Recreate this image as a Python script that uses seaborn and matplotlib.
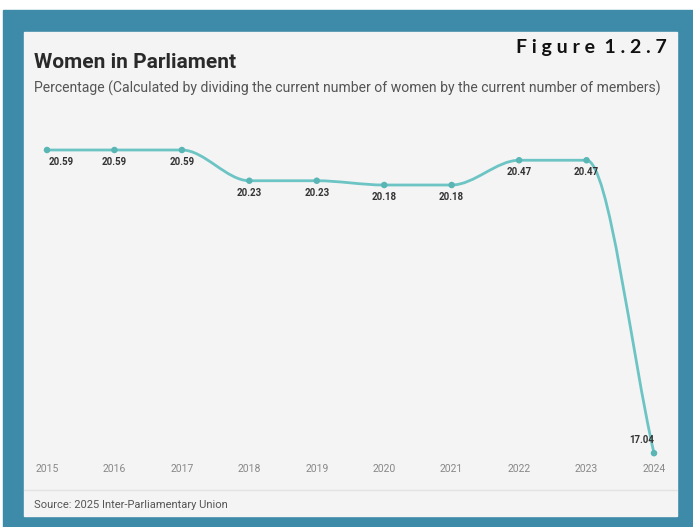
import matplotlib
matplotlib.use("Agg")
import matplotlib.pyplot as plt
from matplotlib.path import Path
from matplotlib.patches import PathPatch, Rectangle
import numpy as np
import pandas as pd
import seaborn as sns

years = [2015, 2016, 2017, 2018, 2019, 2020, 2021, 2022, 2023, 2024]
values = [20.59, 20.59, 20.59, 20.23, 20.23, 20.18, 20.18, 20.47, 20.47, 17.04]
labels = ["20.59", "20.59", "20.59", "20.23", "20.23", "20.18", "20.18", "20.47", "20.47", "17.04"]

title = "Women in Parliament"
subtitle = "Percentage (Calculated by dividing the current number of women by the current number of members)"
fig_label = "Figure 1.2.7"
source = "Source: 2025 Inter-Parliamentary Union"

df = pd.DataFrame({"year": years, "value": values})

sns.set_style("white")
plt.rcParams["font.family"] = ["Roboto", "DejaVu Sans"]

W, H = 693, 527
fig = plt.figure(figsize=(W / 100, H / 100), dpi=100)
fig.patch.set_facecolor("white")

def px(x, y, w, h):
    return [x / W, 1 - (y + h) / H, w / W, h / H]

# blue background
bg = fig.add_axes([0, 0, 1, 1])
bg.set_xlim(0, W); bg.set_ylim(H, 0); bg.axis("off")
bg.add_patch(Rectangle((3, 10), W - 3, H - 10, color="#3d8ba8", zorder=0))
# card
bg.add_patch(Rectangle((24, 32), 653, 484, color="#f4f4f4", zorder=1))
bg.plot([24, 677], [490, 490], color="#e2e2e2", lw=1, zorder=2)

bg.text(34, 62, title, fontsize=15, fontweight="bold", color="#2a2a2a", va="center", ha="left", zorder=3)
bg.text(667, 48, " ".join(fig_label).replace("e   1", "e  1"), fontsize=14, fontweight="bold", color="#111111",
        va="center", ha="right", zorder=3, family=["Lato", "DejaVu Sans"])
bg.text(34, 88, subtitle, fontsize=10.1, color="#555555", va="center", ha="left", zorder=3)
bg.text(34, 505, source, fontsize=8, color="#555555", va="center", ha="left", zorder=3)

# chart axes
top_px, bot_px = 140, 460
ax = fig.add_axes(px(24, top_px, 653, bot_px - top_px))
ax.set_facecolor("none")
scale = 67.44
ax.set_xlim(2015 - 23 / scale, 2024 + 23 / scale)
ppu = 85.4
ax.set_ylim(20.59 - (bot_px - 150) / ppu, 20.59 + (150 - top_px) / ppu)

# smooth monotone curve (d3 curveMonotoneX style) built from the data
x = np.array(years, dtype=float); y = np.array(values, dtype=float)
n = len(x)
d = np.diff(y) / np.diff(x)
m = np.zeros(n)
m[0] = d[0]; m[-1] = d[-1]
for i in range(1, n - 1):
    if d[i - 1] * d[i] <= 0:
        m[i] = 0
    else:
        h0 = x[i] - x[i - 1]; h1 = x[i + 1] - x[i]
        p = (d[i - 1] * h1 + d[i] * h0) / (h0 + h1)
        m[i] = (np.sign(d[i - 1]) + np.sign(d[i])) * min(abs(d[i - 1]), abs(d[i]), 0.5 * abs(p))
verts = [(x[0], y[0])]; codes = [Path.MOVETO]
for i in range(n - 1):
    h = (x[i + 1] - x[i]) / 3
    verts += [(x[i] + h, y[i] + h * m[i]), (x[i + 1] - h, y[i + 1] - h * m[i + 1]), (x[i + 1], y[i + 1])]
    codes += [Path.CURVE4] * 3
ax.add_patch(PathPatch(Path(verts, codes), facecolor="none", edgecolor="#6cc4c4", lw=2, zorder=2))

sns.scatterplot(data=df, x="year", y="value", ax=ax, color="#5ab5b5", s=22, edgecolor="none", zorder=3, legend=False)

for i, (xx, yy, lab) in enumerate(zip(years, values, labels)):
    if i == len(years) - 1:
        ax.annotate(lab, (xx, yy), xytext=(-9, 6), textcoords="offset points", ha="center", va="bottom",
                    fontsize=7, fontweight="bold", color="#333333")
    elif i == 0:
        ax.annotate(lab, (xx, yy), xytext=(10, -5), textcoords="offset points", ha="center", va="top",
                    fontsize=7, fontweight="bold", color="#333333")
    else:
        ax.annotate(lab, (xx, yy), xytext=(0, -5), textcoords="offset points", ha="center", va="top",
                    fontsize=7, fontweight="bold", color="#333333")

ax.set_xticks(years)
ax.set_xticklabels([str(v) for v in years])
ax.set_yticks([])
ax.tick_params(axis="x", length=0, pad=3, labelsize=7.5, labelcolor="#888888")
ax.set_xlabel(""); ax.set_ylabel("")
for s in ax.spines.values():
    s.set_visible(False)

fig.savefig("out.png", dpi=100)
